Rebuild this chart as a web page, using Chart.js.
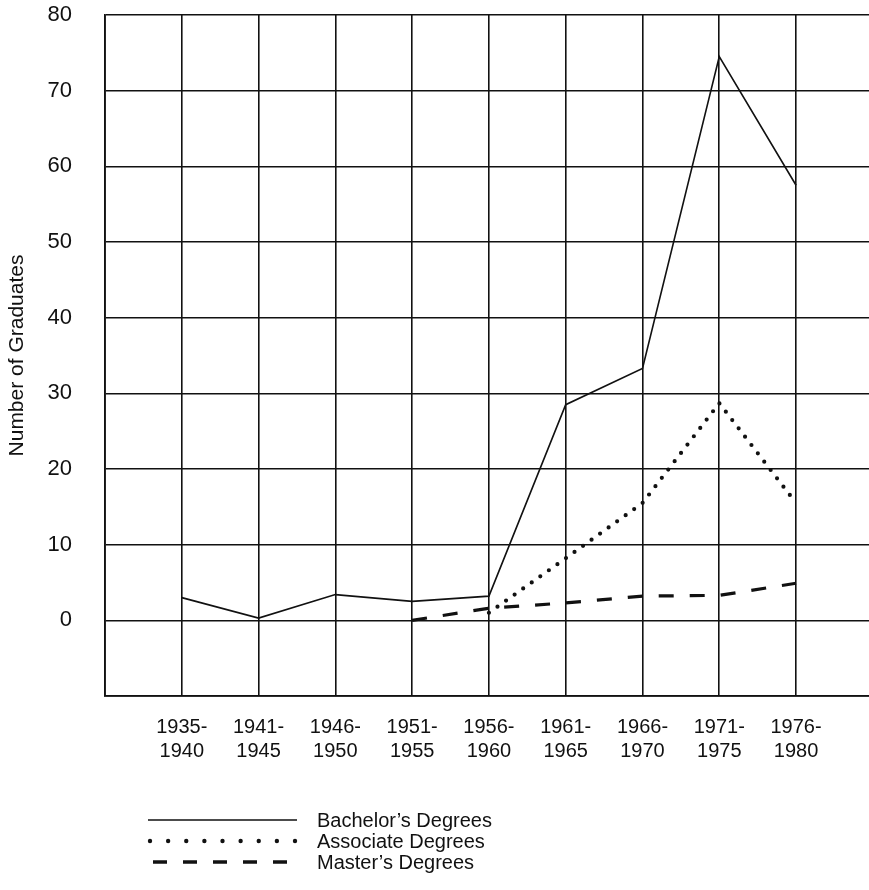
<!DOCTYPE html>
<html>
<head>
<meta charset="utf-8">
<script src="https://cdn.jsdelivr.net/npm/chart.js@4"></script>
<style>
  html, body { margin: 0; padding: 0; background: #fff; }
  #wrap { width: 869px; height: 890px; position: relative; }
</style>
</head>
<body>
<div id="wrap"><canvas id="c" width="869" height="890"></canvas></div>
<script>
const categories = ['1935-1940', '1941-1945', '1946-1950', '1951-1955', '1956-1960', '1961-1965', '1966-1970', '1971-1975', '1976-1980'];
const bachelors = [3.0, 0.3, 3.4, 2.5, 3.2, 28.5, 33.3, 74.5, 57.5];
const associate = [null, null, null, null, 1.0, 8.2, 15.5, 28.7, 15.5];
const masters = [null, null, null, 0.0, 1.6, 2.3, 3.2, 3.3, 4.9];
const yTicks = [-10, 0, 10, 20, 30, 40, 50, 60, 70, 80];
const legendLabels = ['Bachelor\u2019s Degrees', 'Associate Degrees', 'Master\u2019s Degrees'];

const FONT = "'Liberation Sans', Arial, Helvetica, sans-serif";
const INK = '#111';

function toPoints(arr) {
  return arr.map((v, i) => ({ x: i + 1, y: v }));
}

const legendPlugin = {
  id: 'customLegend',
  afterDraw(chart) {
    const ctx = chart.ctx;
    const x0 = 148, x1 = 297, tx = 317;
    const rows = [820, 841, 862];
    ctx.save();
    ctx.strokeStyle = INK;
    ctx.fillStyle = INK;
    ctx.lineWidth = 1.5;
    ctx.setLineDash([]);
    ctx.beginPath(); ctx.moveTo(x0, rows[0]); ctx.lineTo(x1, rows[0]); ctx.stroke();
    for (let i = 0; i < 9; i++) {
      const x = x0 + 2 + i * ((x1 - x0 - 4) / 8);
      ctx.beginPath(); ctx.arc(x, rows[1], 2.2, 0, Math.PI * 2); ctx.fill();
    }
    ctx.lineWidth = 3.5;
    for (let i = 0; i < 5; i++) {
      const x = x0 + 5 + i * 30;
      ctx.beginPath(); ctx.moveTo(x, rows[2]); ctx.lineTo(x + 14, rows[2]); ctx.stroke();
    }
    ctx.font = '20px ' + FONT;
    ctx.textBaseline = 'middle';
    ctx.textAlign = 'left';
    legendLabels.forEach((t, i) => ctx.fillText(t, tx, rows[i] + 1));
    ctx.restore();
  }
};

new Chart(document.getElementById('c'), {
  type: 'line',
  data: {
    datasets: [
      {
        label: legendLabels[0],
        data: toPoints(bachelors),
        borderColor: INK,
        borderWidth: 1.6,
        pointRadius: 0,
        tension: 0,
        fill: false
      },
      {
        label: legendLabels[1],
        data: toPoints(associate),
        borderColor: INK,
        borderWidth: 4.2,
        borderDash: [0, 10.5],
        borderCapStyle: 'round',
        pointRadius: 0,
        tension: 0,
        fill: false
      },
      {
        label: legendLabels[2],
        data: toPoints(masters),
        borderColor: INK,
        borderWidth: 3.2,
        borderDash: [15, 16],
        pointRadius: 0,
        tension: 0,
        fill: false
      }
    ]
  },
  options: {
    responsive: false,
    animation: false,
    layout: { padding: { top: 15, left: 0, right: 0, bottom: 104 } },
    plugins: { legend: { display: false }, tooltip: { enabled: false } },
    scales: {
      x: {
        type: 'linear',
        min: 0,
        max: 9.95,
        ticks: {
          stepSize: 1,
          includeBounds: false,
          autoSkip: false,
          maxRotation: 0,
          padding: 19,
          color: INK,
          font: { family: FONT, size: 20 },
          callback: (v) => {
            const lbl = categories[Math.round(v) - 1];
            if (!lbl || Math.abs(v - Math.round(v)) > 1e-6) return '';
            const parts = lbl.split('-');
            return [parts[0] + '-', parts[1]];
          }
        },
        grid: { color: INK, lineWidth: 1.6, drawTicks: false },
        border: { color: INK, width: 1.8 },
        afterFit: (s) => { s.height = 90; s.paddingLeft = 0; s.paddingRight = 0; }
      },
      y: {
        type: 'linear',
        min: yTicks[0],
        max: yTicks[yTicks.length - 1],
        afterBuildTicks: (s) => { s.ticks = yTicks.map(v => ({ value: v })); },
        ticks: {
          padding: 33,
          color: INK,
          font: { family: FONT, size: 22 },
          callback: (v) => (v < 0 ? '' : String(v))
        },
        grid: { color: INK, lineWidth: 1.6, drawTicks: false },
        border: { color: INK, width: 1.8 },
        title: {
          display: true,
          text: 'Number of Graduates',
          color: INK,
          font: { family: FONT, size: 21 },
          padding: { top: 5, bottom: 0 }
        },
        afterFit: (s) => { s.width = 105; s.paddingTop = 0; s.paddingBottom = 0; }
      }
    }
  },
  plugins: [legendPlugin]
});
</script>
</body>
</html>
